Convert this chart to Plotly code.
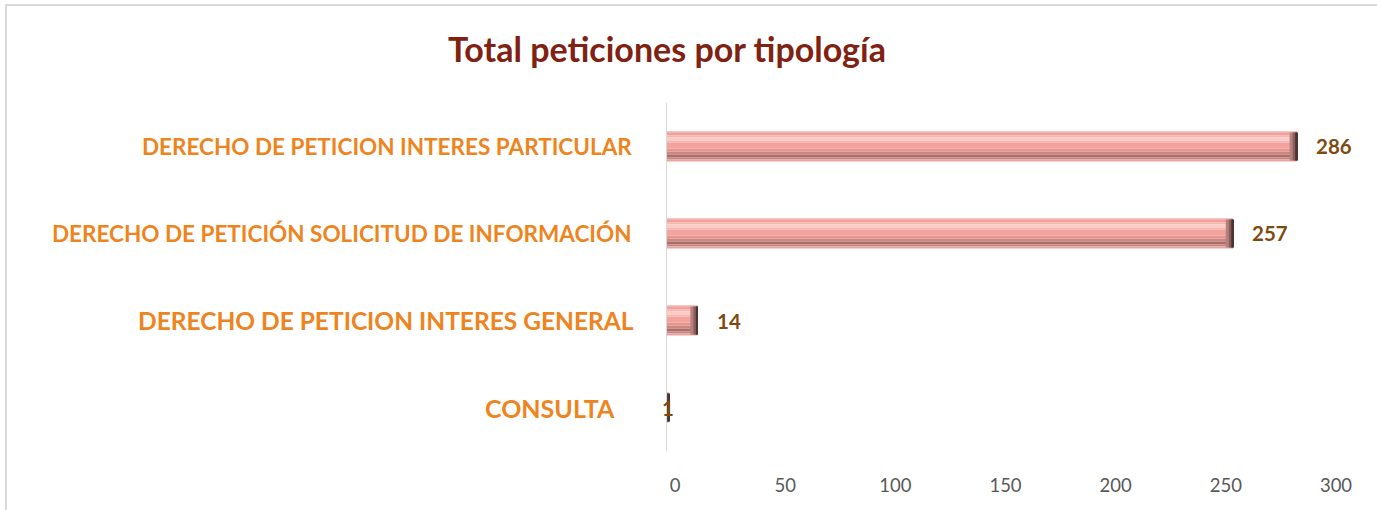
import plotly.graph_objects as go

categories = [
    "DERECHO DE PETICION INTERES PARTICULAR",
    "DERECHO DE PETICIÓN SOLICITUD DE INFORMACIÓN",
    "DERECHO DE PETICION INTERES GENERAL",
    "CONSULTA",
]
values = [286, 257, 14, 1]
x_ticks = [0, 50, 100, 150, 200, 250, 300]
title_text = "Total peticiones por tipología"

# styling (not data)
label_sizes = [22.5, 22.5, 24.5, 25]
label_shift = [-33, -33, -31, -50]
value_shift = [17, 17, 17, -1]
value_anchor = ["left", "left", "left", "center"]

W, H = 1377, 510
FONT = "Lato"

fig = go.Figure()

# bevelled bar built from stacked horizontal bands (top -> bottom), px heights
bands = [
    (1, "#F6C6C2"),
    (3, "#F1A09A"),
    (2, "#F6B5B0"),
    (3, "#FCCBC6"),
    (2, "#F6B5B0"),
    (6, "#F3A39D"),
    (3, "#E8958F"),
    (3, "#CF8681"),
    (3, "#A96E6A"),
    (2, "#C8827D"),
    (2, "#E7A6A1"),
]
px_per_cat = 87.0
total_px = sum(b[0] for b in bands)
start = -total_px / 2.0
for h, c in bands:
    fig.add_trace(go.Bar(
        y=categories, x=values, orientation="h",
        width=h / px_per_cat, offset=start / px_per_cat,
        marker=dict(color=c, line=dict(width=0)),
        hoverinfo="skip", showlegend=False,
    ))
    start += h

# dark bevel at the right end of each bar
for w_units, col in [(3.4, "#B7807C"), (2.0, "#8A5E5B"), (0.9, "#4A3534")]:
    fig.add_trace(go.Bar(
        y=categories, x=[-w_units] * len(values), base=values, orientation="h",
        width=(total_px - 2) / px_per_cat, offset=-(total_px - 2) / 2.0 / px_per_cat,
        marker=dict(color=col, line=dict(width=0)),
        hoverinfo="skip", showlegend=False,
    ))

# invisible hover layer
fig.add_trace(go.Bar(
    y=categories, x=values, orientation="h",
    width=total_px / px_per_cat, offset=-total_px / 2.0 / px_per_cat,
    marker=dict(color="rgba(0,0,0,0)", line=dict(width=0)),
    hovertemplate="%{y}: %{x}<extra></extra>", showlegend=False,
))

fig.update_layout(
    barmode="overlay",
    width=W, height=H,
    margin=dict(l=0, r=0, t=0, b=0),
    paper_bgcolor="white", plot_bgcolor="white",
    title=dict(text=title_text, x=667 / W, xanchor="center", y=1 - 50 / H, yanchor="middle",
               font=dict(family=FONT, size=34, color="#7F2212", weight="bold")),
    xaxis=dict(domain=[667 / W, 1328 / W], range=[0, 300], tickvals=x_ticks,
               automargin=False,
               showgrid=False, zeroline=False, showline=False,
               ticks="outside", ticklen=18, tickcolor="rgba(0,0,0,0)",
               ticklabelshift=8,
               tickfont=dict(family=FONT, size=18.5, color="#595959")),
    yaxis=dict(domain=[1 - 451 / H, 1 - 103 / H], autorange="reversed",
               automargin=False,
               showticklabels=False, showgrid=False, zeroline=False,
               showline=True, linecolor="#D9D9D9", linewidth=1),
    shapes=[dict(type="rect", xref="paper", yref="paper",
                 x0=6 / W, x1=1.01, y0=-0.05, y1=1 - 5 / H,
                 line=dict(color="#D9D9D9", width=2), fillcolor="rgba(0,0,0,0)", layer="below")],
)

for cat, v, s, sh, vs, va in zip(categories, values, label_sizes, label_shift, value_shift, value_anchor):
    fig.add_annotation(x=0, y=cat, xref="x", yref="y", text=cat, showarrow=False,
                       xanchor="right", xshift=sh,
                       font=dict(family=FONT, size=s, color="#EE8420", weight="bold"))
    fig.add_annotation(x=v, y=cat, xref="x", yref="y", text=str(v), showarrow=False,
                       xanchor=va, xshift=vs,
                       font=dict(family=FONT, size=20.5, color="#7F4A12", weight="bold"))

fig.write_html("out.html", config={"displayModeBar": False},
               post_script="document.body.style.margin='0';document.body.style.overflow='hidden';")
